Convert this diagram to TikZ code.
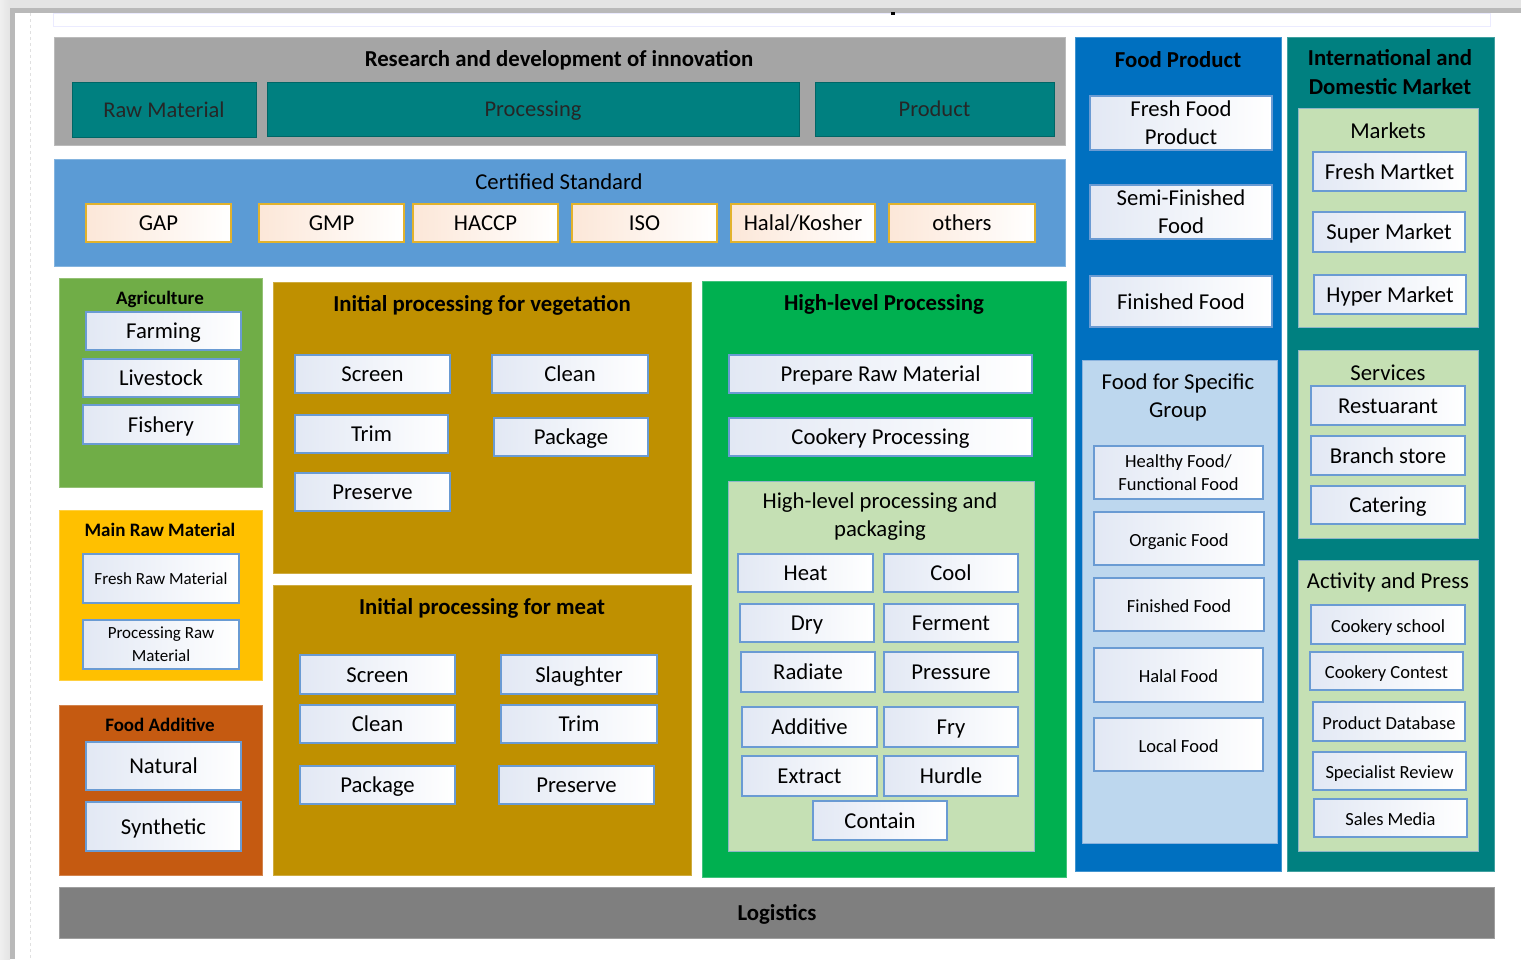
\documentclass[tikz,border=0pt]{standalone}
\usepackage{fontspec}
\setmainfont{Carlito}
\definecolor{rdgray}{HTML}{A5A5A5}
\definecolor{tealc}{HTML}{008080}
\definecolor{certblue}{HTML}{5B9BD5}
\definecolor{agri}{HTML}{70AD47}
\definecolor{rawy}{HTML}{FFC000}
\definecolor{addo}{HTML}{C55A11}
\definecolor{ochre}{HTML}{BF9000}
\definecolor{hlgreen}{HTML}{00B050}
\definecolor{palegreen}{HTML}{C5E0B4}
\definecolor{fpblue}{HTML}{0070C0}
\definecolor{paleblue}{HTML}{BDD7EE}
\definecolor{logi}{HTML}{7F7F7F}
\definecolor{itemedge}{HTML}{6A9BD3}
\definecolor{itemtint}{HTML}{E2E8F4}
\definecolor{stdedge}{HTML}{E2B22C}
\definecolor{stdtint}{HTML}{FCE7D8}
\definecolor{framegray}{HTML}{B9B9B9}
\definecolor{framelight}{HTML}{E4E4E4}
% box from corner (x1,y1) to corner (x2,y2), in pixel units
\newcommand\bx[7]{\node[#2, minimum width={(#5)-(#3)}, minimum height={(#6)-(#4)}]
  (#1) at ({((#3)+(#5))/2},{((#4)+(#6))/2}) {#7};}
\begin{document}
\begin{tikzpicture}[x=1pt,y=-1pt,
  every node/.style={inner sep=1pt, outer sep=0pt, text=black},
  cont/.style={fill=#1, draw=#1!75!white, line width=0.8pt},
  inner/.style={fill=#1, draw=itemedge!60!#1, line width=0.8pt},
  tealbox/.style={fill=tealc, draw=tealc!80!black, line width=0.6pt,
    font=\fontsize{22.5}{27}\selectfont, text=black!85, text height=16pt, text depth=1pt},
  item/.style={draw=itemedge, line width=1.1pt, left color=itemtint, right color=white,
    font=\fontsize{22.7}{28}\selectfont, align=center},
  one/.style={text height=16pt, text depth=1pt},
  sitem/.style={item, font=\fontsize{18.5}{23}\selectfont},
  xsitem/.style={item, font=\fontsize{17}{23}\selectfont},
  std/.style={draw=stdedge, line width=1.2pt, left color=stdtint, right color=white,
    font=\fontsize{22.7}{28}\selectfont, text height=16pt, text depth=1pt},
  hd/.style={font=\fontsize{22.8}{29}\bfseries\selectfont, align=center},
  hds/.style={font=\fontsize{19}{23}\bfseries\selectfont, align=center},
  tx/.style={font=\fontsize{22.7}{28}\selectfont, align=center}
]
% page frame
\useasboundingbox (0,0) rectangle (1521,959);
\fill[white] (0,0) rectangle (1521,959);
\fill[framelight] (0,0) rectangle (1521,8);
\fill[framegray] (0,8) rectangle (1521,13);
\fill[left color=framelight!60!white, right color=framelight] (0,0) rectangle (10,959);
\fill[framegray] (10,8) rectangle (15,959);
\draw[black!12, dashed, line width=0.8pt] (30,13) -- (30,959);
\draw[blue!8, line width=0.8pt] (53,13) rectangle (1490,26);
\fill[black] (891,12) rectangle (895,15);

% research and development
\bx{rd}{cont=rdgray}{54}{37}{1065}{145}{}
\node[hd] (rdt) at (559,60) {Research and development of innovation};
\bx{rdraw}{tealbox}{72}{82}{256}{137}{Raw Material}
\bx{rdproc}{tealbox}{267}{82}{799}{136}{Processing}
\bx{rdprod}{tealbox}{815}{82}{1054}{136}{Product}

% certified standards
\bx{cs}{cont=certblue}{54}{159}{1065}{266}{}
\node[tx] (cst) at (559,182) {Certified Standard};
\bx{gap}{std}{86}{204}{231}{242}{GAP}
\bx{gmp}{std}{259}{204}{404}{242}{GMP}
\bx{haccp}{std}{413}{204}{558}{242}{HACCP}
\bx{iso}{std}{572}{204}{717}{242}{ISO}
\bx{halal}{std}{731}{204}{875}{242}{Halal/Kosher}
\bx{others}{std}{889}{204}{1035}{242}{others}

% agriculture
\bx{ag}{cont=agri}{59}{278}{262}{487}{}
\node[hds] (agt) at (160,299) {Agriculture};
\bx{farm}{item,one}{86}{312}{241}{350}{Farming}
\bx{live}{item,one}{83}{359}{239}{397}{Livestock}
\bx{fish}{item,one}{83}{405}{239}{444}{Fishery}

% main raw material
\bx{mr}{cont=rawy}{59}{510}{262}{680}{}
\node[hds] (mrt) at (160,530) {Main Raw Material};
\bx{frm}{xsitem}{83}{554}{239}{603}{Fresh Raw Material}
\bx{prm}{xsitem}{83}{620}{239}{669}{Processing Raw\\Material}

% food additive
\bx{fa}{cont=addo}{59}{705}{262}{875}{}
\node[hds] (fat) at (160,725) {Food Additive};
\bx{nat}{item,one}{86}{742}{241}{790}{Natural}
\bx{syn}{item,one}{86}{802}{241}{851}{Synthetic}

% initial processing for vegetation
\bx{veg}{cont=ochre}{273}{282}{691}{573}{}
\node[hd] (vegt) at (482,305) {Initial processing for vegetation};
\bx{vscreen}{item,one}{295}{355}{450}{393}{Screen}
\bx{vclean}{item,one}{492}{355}{648}{393}{Clean}
\bx{vtrim}{item,one}{295}{415}{448}{453}{Trim}
\bx{vpack}{item,one}{494}{418}{648}{456}{Package}
\bx{vpres}{item,one}{295}{473}{450}{511}{Preserve}

% initial processing for meat
\bx{meat}{cont=ochre}{273}{585}{691}{875}{}
\node[hd] (meatt) at (482,608) {Initial processing for meat};
\bx{mscreen}{item,one}{300}{655}{455}{694}{Screen}
\bx{mslau}{item,one}{501}{655}{657}{694}{Slaughter}
\bx{mclean}{item,one}{300}{705}{455}{743}{Clean}
\bx{mtrim}{item,one}{501}{705}{657}{743}{Trim}
\bx{mpack}{item,one}{300}{766}{455}{804}{Package}
\bx{mpres}{item,one}{499}{766}{654}{804}{Preserve}

% high-level processing
\bx{hl}{cont=hlgreen}{702}{281}{1066}{877}{}
\node[hd] (hlt) at (884,304) {High-level Processing};
\bx{prep}{item,one}{729}{355}{1032}{393}{Prepare Raw Material}
\bx{cook}{item,one}{729}{418}{1032}{456}{Cookery Processing}
\bx{hp}{inner=palegreen}{728}{481}{1034}{851}{}
\node[tx] (hpt) at (880,517) {High-level processing and\\packaging};
\bx{heat}{item,one}{738}{554}{873}{592}{Heat}
\bx{cool}{item,one}{884}{554}{1018}{592}{Cool}
\bx{dry}{item,one}{740}{604}{874}{642}{Dry}
\bx{ferm}{item,one}{884}{604}{1018}{642}{Ferment}
\bx{rad}{item,one}{741}{652}{875}{692}{Radiate}
\bx{pres}{item,one}{884}{652}{1018}{692}{Pressure}
\bx{addv}{item,one}{742}{707}{877}{747}{Additive}
\bx{fry}{item,one}{884}{707}{1018}{747}{Fry}
\bx{extr}{item,one}{742}{756}{877}{796}{Extract}
\bx{hurd}{item,one}{884}{756}{1018}{796}{Hurdle}
\bx{cont}{item,one}{813}{801}{947}{840}{Contain}

% food product
\bx{fp}{cont=fpblue}{1075}{37}{1281}{871}{}
\node[hd] (fpt) at (1178,60) {Food Product};
\bx{ffp}{item}{1090}{96}{1272}{150}{Fresh Food\\Product}
\bx{sff}{item}{1090}{185}{1272}{239}{Semi-Finished\\Food}
\bx{fif}{item,one}{1090}{276}{1272}{327}{Finished Food}
\bx{fsg}{inner=paleblue}{1082}{360}{1277}{843}{}
\node[tx] (fsgt) at (1178,397) {Food for Specific\\Group};
\bx{hff}{sitem}{1094}{446}{1263}{499}{Healthy Food/\\Functional Food}
\bx{org}{sitem,one}{1094}{512}{1264}{565}{Organic Food}
\bx{fin}{sitem,one}{1094}{578}{1264}{631}{Finished Food}
\bx{hal}{sitem,one}{1094}{648}{1263}{702}{Halal Food}
\bx{loc}{sitem,one}{1094}{718}{1263}{771}{Local Food}

% international and domestic market
\bx{idm}{cont=tealc}{1287}{37}{1494}{871}{}
\node[hd] (idmt) at (1390,72) {International and\\Domestic Market};
\bx{mk}{inner=palegreen}{1298}{108}{1478}{327}{}
\node[tx] (mkt) at (1388,131) {Markets};
\bx{fmk}{item,one}{1313}{152}{1466}{191}{Fresh Martket}
\bx{smk}{item,one}{1313}{212}{1465}{252}{Super Market}
\bx{hmk}{item,one}{1314}{275}{1466}{314}{Hyper Market}
\bx{sv}{inner=palegreen}{1298}{350}{1478}{538}{}
\node[tx] (svt) at (1388,373) {Services};
\bx{rest}{item,one}{1311}{386}{1465}{425}{Restuarant}
\bx{bran}{item,one}{1311}{436}{1465}{475}{Branch store}
\bx{cate}{item,one}{1311}{486}{1465}{524}{Catering}
\bx{ap}{inner=palegreen}{1298}{560}{1478}{851}{}
\node[tx] (apt) at (1388,582) {Activity and Press};
\bx{csch}{sitem,one}{1311}{605}{1465}{644}{Cookery school}
\bx{ccon}{sitem,one}{1310}{652}{1463}{690}{Cookery Contest}
\bx{pdb}{sitem,one}{1313}{702}{1465}{741}{Product Database}
\bx{spr}{sitem,one}{1313}{752}{1466}{790}{Specialist Review}
\bx{sme}{sitem,one}{1314}{799}{1467}{837}{Sales Media}

% logistics
\bx{lg}{cont=logi}{59}{887}{1494}{938}{}
\node[hd] (lgt) at (777,914) {Logistics};
\end{tikzpicture}
\end{document}
